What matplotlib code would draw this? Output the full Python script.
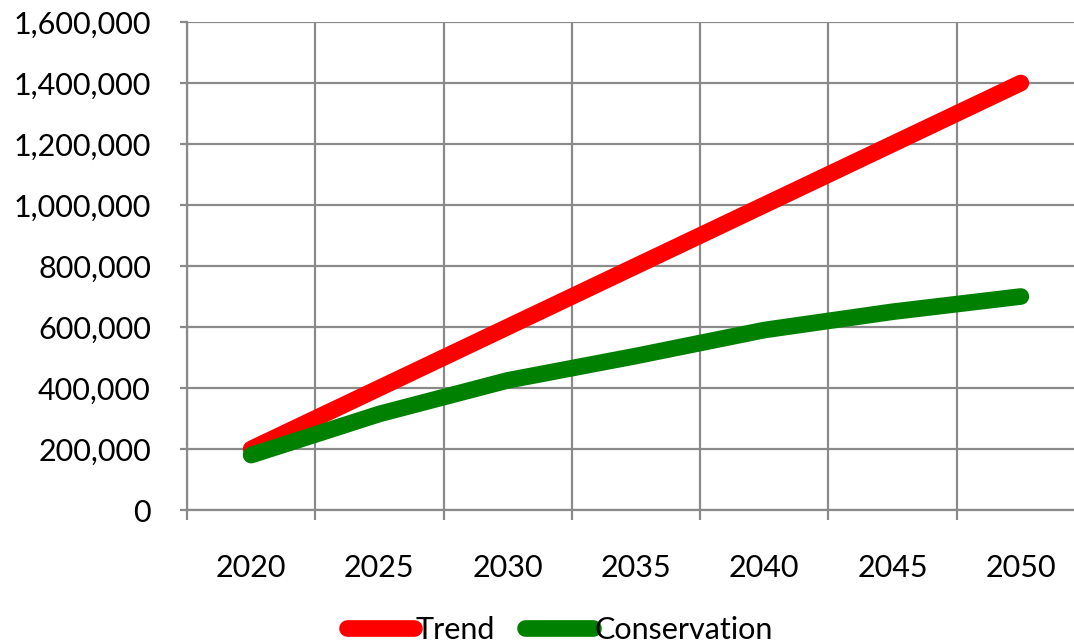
import matplotlib
matplotlib.use("Agg")
import matplotlib.pyplot as plt
import numpy as np
from matplotlib.ticker import FuncFormatter, FixedLocator

years = ["2020", "2025", "2030", "2035", "2040", "2045", "2050"]
trend = [200000, 400000, 600000, 800000, 1000000, 1200000, 1400000]
conservation = [180000, 315000, 425000, 505000, 590000, 650000, 700000]

plt.rcParams["font.family"] = ["Lato", "DejaVu Sans"]
grid_col = "#8a8a8a"

fig = plt.figure(figsize=(10.74, 6.44), dpi=100)
ax = fig.add_axes([187 / 1074, 1 - 510 / 644, 898 / 1074, 488 / 644])

x = np.arange(len(years))
ax.plot(x, trend, color="#ff0000", lw=12, solid_capstyle="round", label="Trend", zorder=3)
ax.plot(x, conservation, color="#008000", lw=12, solid_capstyle="round",
        label="Conservation", zorder=4)

ax.set_xlim(-0.5, len(years) - 0.5)
ax.set_ylim(0, 1600000)
ax.set_xticks(x)
ax.set_xticklabels(years)
ax.xaxis.set_minor_locator(FixedLocator(np.arange(-0.5, len(years), 1.0)))
ax.set_yticks(np.arange(0, 1600001, 200000))
ax.yaxis.set_major_formatter(FuncFormatter(lambda v, p: f"{int(v):,}"))

ax.tick_params(axis="x", which="major", length=0, pad=32, labelsize=22)
ax.tick_params(axis="x", which="minor", length=7.5, width=1.6, color=grid_col)
ax.tick_params(axis="y", length=5, width=1.6, color=grid_col, pad=21, labelsize=22)

ax.grid(True, axis="y", which="major", color=grid_col, lw=1.6)
ax.grid(True, axis="x", which="minor", color=grid_col, lw=1.6)
ax.set_axisbelow(True)

for s in ["top", "right"]:
    ax.spines[s].set_visible(False)
for s in ["left", "bottom"]:
    ax.spines[s].set_color(grid_col)
    ax.spines[s].set_linewidth(1.6)

fig.legend(loc="center", bbox_to_anchor=(0.521, 1 - 630 / 644), ncol=2, frameon=False,
           fontsize=22, handlelength=2.2, handletextpad=0.05, columnspacing=1.0)

fig.savefig("out.png", dpi=100)
